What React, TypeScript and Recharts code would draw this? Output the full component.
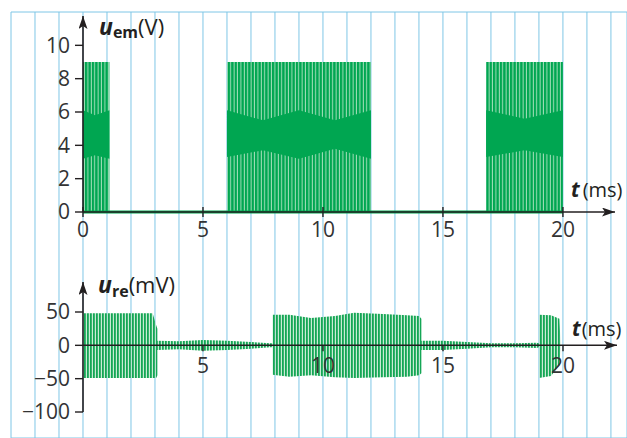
import React from 'react';
import { ComposedChart, Area, Line, XAxis, YAxis, CartesianGrid } from 'recharts';

const W = 627;
const H = 438;

const AXIS = '#231f20';
const LABEL = '#333333';
const GRID = '#7fc6e6';
const GREEN = '#00a651';
const FONT = "'Open Sans', 'Noto Sans', sans-serif";

// background grid, one line per ms and per half scale division
const gridX = [-3, -2, -1, 0, 1, 2, 3, 4, 5, 6, 7, 8, 9, 10, 11, 12, 13, 14, 15, 16, 17, 18, 19, 20, 21, 22];
const gridY = [-6, -5, -4, -3, -2, -1, 0, 1, 2, 3, 4, 5, 6];

// u_em (V): emitted bursts, envelope
const emTime = [0, 0.5, 1.1, 1.1, 6.0, 6.0, 7.5, 9.0, 10.5, 12.0, 12.0, 16.8, 16.8, 18.4, 20.0];
const emHigh = [9, 9, 9, 0, 0, 9, 9, 9, 9, 9, 0, 0, 9, 9, 9];
const emCoreLow = [3.2, 3.4, 3.2, 0, 0, 3.3, 3.7, 3.2, 3.8, 3.2, 0, 0, 3.3, 3.7, 3.3];
const emCoreHigh = [6.1, 5.8, 6.1, 0, 0, 6.1, 5.5, 6.1, 5.5, 6.1, 0, 0, 6.1, 5.6, 6.1];

// u_re (mV): received signal envelope
const reTime = [0, 2.9, 3.05, 3.1, 3.1, 4.0, 5.0, 6.0, 7.0, 7.8, 7.9, 7.9, 8.6, 9.5, 10.5, 11.3, 12.5, 13.5, 14.0, 14.1, 14.1, 15.0, 16.0, 17.0, 18.0, 18.9, 19.0, 19.0, 19.5, 19.85, 19.9];
const reHigh = [48, 48, 30, 25, 7, 6, 8, 7, 5, 3, 3, 46, 46, 41, 44, 49, 47, 45, 44, 40, 7, 7, 5, 3, 3, 4, 3, 46, 45, 40, 3];
const reLow = [-49, -49, -49, -45, -7, -6, -8, -7, -5, -3, -3, -44, -47, -45, -48, -49, -48, -47, -45, -42, -7, -7, -5, -3, -3, -4, -3, -49, -46, -30, -3];

const emTicksX = [0, 5, 10, 15, 20];
const emTicksY = [0, 2, 4, 6, 8, 10];
const reTicksX = [5, 10, 15, 20];
const reTicksY = [-100, -50, 0, 50];

const emRows = emTime.map((t, i) => ({
  t,
  lo: 0,
  hi: emHigh[i],
  coreLo: emCoreLow[i],
  coreHi: emCoreHigh[i],
  base: 0,
}));

const reRows = reTime.map((t, i) => ({ t, lo: reLow[i], hi: reHigh[i] }));

const tickFont = { fontSize: 21, fill: LABEL, fontFamily: FONT };
const minus = (v: number) => String(v).replace('-', '\u2212');

function TopTick(props: any) {
  const { x, y, payload } = props;
  return (
    <g>
      <line x1={x} x2={x} y1={y - 5} y2={y + 5} stroke={AXIS} strokeWidth={1.4} />
      <text x={x} y={y + 10} dy="0.71em" textAnchor="middle" {...tickFont}>
        {payload.value}
      </text>
    </g>
  );
}

const layer: React.CSSProperties = { position: 'absolute', left: 0, top: 0 };

export default function App() {
  return (
    <div style={{ position: 'absolute', left: 0, top: 0, width: W, height: H, overflow: 'hidden', background: '#fff' }}>
      {/* grid */}
      <div style={layer}>
        <ComposedChart width={W} height={H} data={emRows} margin={{ top: 12, right: 0, bottom: 0, left: 11 }}>
          <XAxis type="number" dataKey="t" domain={[-3, 22.67]} ticks={gridX} hide height={0} />
          <YAxis type="number" domain={[-6.78, 6]} ticks={gridY} hide width={0} />
          <CartesianGrid stroke={GRID} strokeWidth={1} />
        </ComposedChart>
      </div>

      {/* top panel: u_em */}
      <div style={layer}>
        <ComposedChart width={W} height={H} data={emRows} margin={{ top: 16, right: 12, bottom: 196, left: 23 }}>
          <XAxis
            type="number"
            dataKey="t"
            domain={[0, 22.17]}
            ticks={emTicksX}
            interval={0}
            height={30}
            tickSize={0}
            tickMargin={0}
            tickLine={false}
            tick={<TopTick />}
            axisLine={{ stroke: AXIS, strokeWidth: 1.6, markerEnd: 'url(#arrowHead)' }}
          />
          <YAxis
            type="number"
            domain={[0, 11.76]}
            ticks={emTicksY}
            interval={0}
            width={60}
            tickSize={8}
            tickMargin={5}
            tick={tickFont}
            tickLine={{ stroke: AXIS, strokeWidth: 1.4 }}
            axisLine={{ stroke: AXIS, strokeWidth: 1.6, markerStart: 'url(#arrowHead)' }}
          />
          <Area
            dataKey={(d: any) => [d.lo, d.hi]}
            type="linear"
            stroke="none"
            fill="url(#emStripes)"
            fillOpacity={1}
            isAnimationActive={false}
          />
          <Area
            dataKey={(d: any) => [d.coreLo, d.coreHi]}
            type="linear"
            stroke="none"
            fill={GREEN}
            fillOpacity={1}
            isAnimationActive={false}
          />
          <Line dataKey="base" type="linear" stroke={GREEN} strokeWidth={3} dot={false} activeDot={false} isAnimationActive={false} />
        </ComposedChart>
      </div>

      {/* bottom panel: u_re signal and y axis */}
      <div style={layer}>
        <ComposedChart width={W} height={H} data={reRows} margin={{ top: 282, right: 10, bottom: 26, left: 23 }}>
          <XAxis type="number" dataKey="t" domain={[0, 22.25]} hide height={0} />
          <YAxis
            type="number"
            domain={[-100, 95]}
            ticks={reTicksY}
            interval={0}
            width={60}
            tickSize={8}
            tickMargin={5}
            tick={tickFont}
            tickFormatter={minus}
            tickLine={{ stroke: AXIS, strokeWidth: 1.4 }}
            axisLine={{ stroke: AXIS, strokeWidth: 1.6, markerStart: 'url(#arrowHead)' }}
          />
          <Area
            dataKey={(d: any) => [d.lo, d.hi]}
            type="linear"
            stroke="none"
            fill="url(#reStripes)"
            fillOpacity={1}
            isAnimationActive={false}
          />
        </ComposedChart>
      </div>

      {/* bottom panel: time axis at u_re = 0 */}
      <div style={layer}>
        <ComposedChart width={W} height={H} data={reRows} margin={{ top: 282, right: 10, bottom: 62.7, left: 83 }}>
          <XAxis
            type="number"
            dataKey="t"
            domain={[0, 22.25]}
            ticks={reTicksX}
            interval={0}
            height={30}
            tickSize={6}
            tickMargin={7}
            tick={tickFont}
            tickLine={{ stroke: AXIS, strokeWidth: 1.4 }}
            axisLine={{ stroke: AXIS, strokeWidth: 1.6, markerEnd: 'url(#arrowHead)' }}
          />
          <YAxis type="number" domain={[0, 1]} hide width={0} />
        </ComposedChart>
      </div>

      {/* defs and axis titles */}
      <svg width={W} height={H} style={{ ...layer, pointerEvents: 'none' }}>
        <defs>
          <marker id="arrowHead" viewBox="0 0 13 9" refX={13} refY={4.5} markerWidth={13} markerHeight={9} markerUnits="userSpaceOnUse" orient="auto-start-reverse">
            <path d="M0,0 L13,4.5 L0,9 L3,4.5 Z" fill={AXIS} />
          </marker>
          <pattern id="emStripes" patternUnits="userSpaceOnUse" width={3.4} height={4}>
            <rect x={0} y={0} width={3.4} height={4} fill={GREEN} />
            <rect x={2.4} y={0} width={1} height={4} fill="#a6dfbb" />
          </pattern>
          <pattern id="reStripes" patternUnits="userSpaceOnUse" width={3} height={4}>
            <rect x={0} y={0} width={3} height={4} fill="#b3e3c4" fillOpacity={0.7} />
            <rect x={0} y={0} width={1.8} height={4} fill="#14a655" />
          </pattern>
        </defs>
        <g fontFamily={FONT} fill={AXIS}>
          <text x={99} y={35}>
            <tspan fontSize={23} fontStyle="italic" fontWeight={700}>u</tspan>
            <tspan fontSize={16} fontWeight={700} dy={3}>em</tspan>
            <tspan fontSize={22} dy={-3}>(V)</tspan>
          </text>
          <text x={98} y={293}>
            <tspan fontSize={23} fontStyle="italic" fontWeight={700}>u</tspan>
            <tspan fontSize={16} fontWeight={700} dy={4}>re</tspan>
            <tspan fontSize={22} dy={-4}>(mV)</tspan>
          </text>
          <text x={571} y={197}>
            <tspan fontSize={21} fontStyle="italic" fontWeight={700}>t</tspan>
            <tspan fontSize={20} dx={3}>(ms)</tspan>
          </text>
          <text x={572} y={336}>
            <tspan fontSize={21} fontStyle="italic" fontWeight={700}>t</tspan>
            <tspan fontSize={20} dx={1}>(ms)</tspan>
          </text>
        </g>
      </svg>
    </div>
  );
}
